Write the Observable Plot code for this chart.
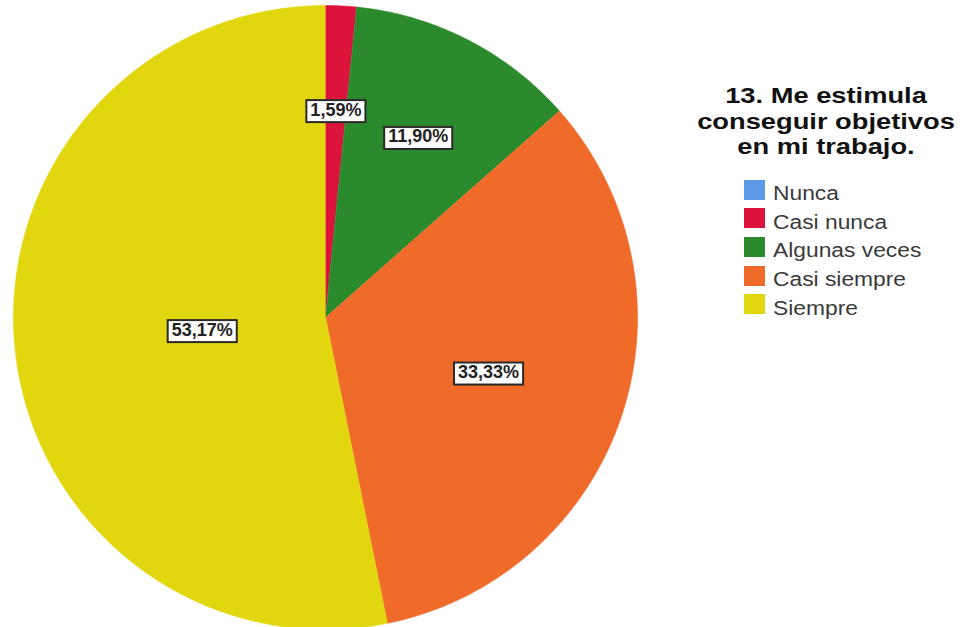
<!DOCTYPE html>
<html><head><meta charset="utf-8">
<script src="https://cdn.jsdelivr.net/npm/d3@7"></script>
<script src="https://cdn.jsdelivr.net/npm/@observablehq/plot@0.6"></script>
<style>
body{margin:0;background:#fff;}
#wrap{position:relative;width:964px;height:627px;overflow:hidden;font-family:"Liberation Sans",Arial,sans-serif;}
#title{position:absolute;left:826px;top:83px;transform:translateX(-50%) scaleX(1.24);transform-origin:center;white-space:nowrap;text-align:center;font-weight:bold;font-size:22px;line-height:25.7px;color:#111;}
#legend{position:absolute;left:744px;top:179.5px;}
.row{position:relative;height:28.7px;}
.sw{position:absolute;left:0;top:0;width:21px;height:20px;}
.lab{position:absolute;left:28.5px;top:2.6px;font-size:20px;line-height:22px;color:#3a3a3a;white-space:nowrap;transform:scaleX(1.14);transform-origin:left center;}
</style></head>
<body><div id="wrap"><div id="chart"></div><div id="title"></div><div id="legend"></div></div>
<script>
const titleLines = ["13. Me estimula", "conseguir objetivos", "en mi trabajo."];
const categories = ["Nunca", "Casi nunca", "Algunas veces", "Casi siempre", "Siempre"];
const percents = [0, 1.59, 11.90, 33.33, 53.17];
const colors = ["#5a9ae6", "#dc143c", "#2b8a2b", "#f06a2a", "#e2d60e"];

const total = d3.sum(percents);
const slicePts = [];
const labels = [];
let cum = 0;
categories.forEach((cat, i) => {
  const v = percents[i];
  const a0 = cum / total * 2 * Math.PI;
  cum += v;
  const a1 = cum / total * 2 * Math.PI;
  if (v <= 0) return;
  slicePts.push({cat, x: 0, y: 0});
  const n = Math.max(2, Math.ceil((a1 - a0) / (Math.PI / 360)));
  for (let k = 0; k <= n; k++) {
    const a = a0 + (a1 - a0) * k / n;
    slicePts.push({cat, x: Math.sin(a), y: Math.cos(a)});
  }
  const half = (a1 - a0) / 2, mid = (a0 + a1) / 2;
  const d = 2 * Math.sin(half) / (3 * half);
  labels.push({cat, x: d * Math.sin(mid), y: d * Math.cos(mid), text: v.toFixed(2).replace(".", ",") + "%"});
});

const chart = Plot.plot({
  width: 964, height: 627, margin: 0,
  style: {background: "transparent", fontFamily: "'Liberation Sans', Arial, sans-serif"},
  x: {domain: [-1, 1], range: [13, 637], axis: null},
  y: {domain: [-1, 1], range: [629, 5], axis: null},
  color: {domain: categories, range: colors},
  marks: [
    Plot.line(slicePts, {x: "x", y: "y", z: "cat", fill: "cat", stroke: "cat", strokeWidth: 0.6}),
    Plot.text(labels, {x: "x", y: "y", text: "text", fontSize: 18, fontWeight: "bold", fill: "#222"})
  ]
});
document.getElementById("chart").appendChild(chart);

Array.from(chart.querySelectorAll("text")).forEach(t => {
  const b = t.getBBox();
  const r = document.createElementNS("http://www.w3.org/2000/svg", "rect");
  r.setAttribute("x", b.x - 4);
  r.setAttribute("y", b.y + 0.5);
  r.setAttribute("width", b.width + 8);
  r.setAttribute("height", b.height + 2);
  r.setAttribute("fill", "#fff");
  r.setAttribute("stroke", "#2a2a2a");
  r.setAttribute("stroke-width", 2);
  const tr = t.getAttribute("transform");
  if (tr) r.setAttribute("transform", tr);
  t.parentNode.insertBefore(r, t);
});

document.getElementById("title").innerHTML = titleLines.join("<br>");
const color = chart.scale("color");
const leg = document.getElementById("legend");
categories.forEach(c => {
  const row = document.createElement("div"); row.className = "row";
  const sw = document.createElement("div"); sw.className = "sw"; sw.style.background = color.apply(c);
  const lb = document.createElement("div"); lb.className = "lab"; lb.textContent = c;
  row.appendChild(sw); row.appendChild(lb); leg.appendChild(row);
});
</script></body></html>
